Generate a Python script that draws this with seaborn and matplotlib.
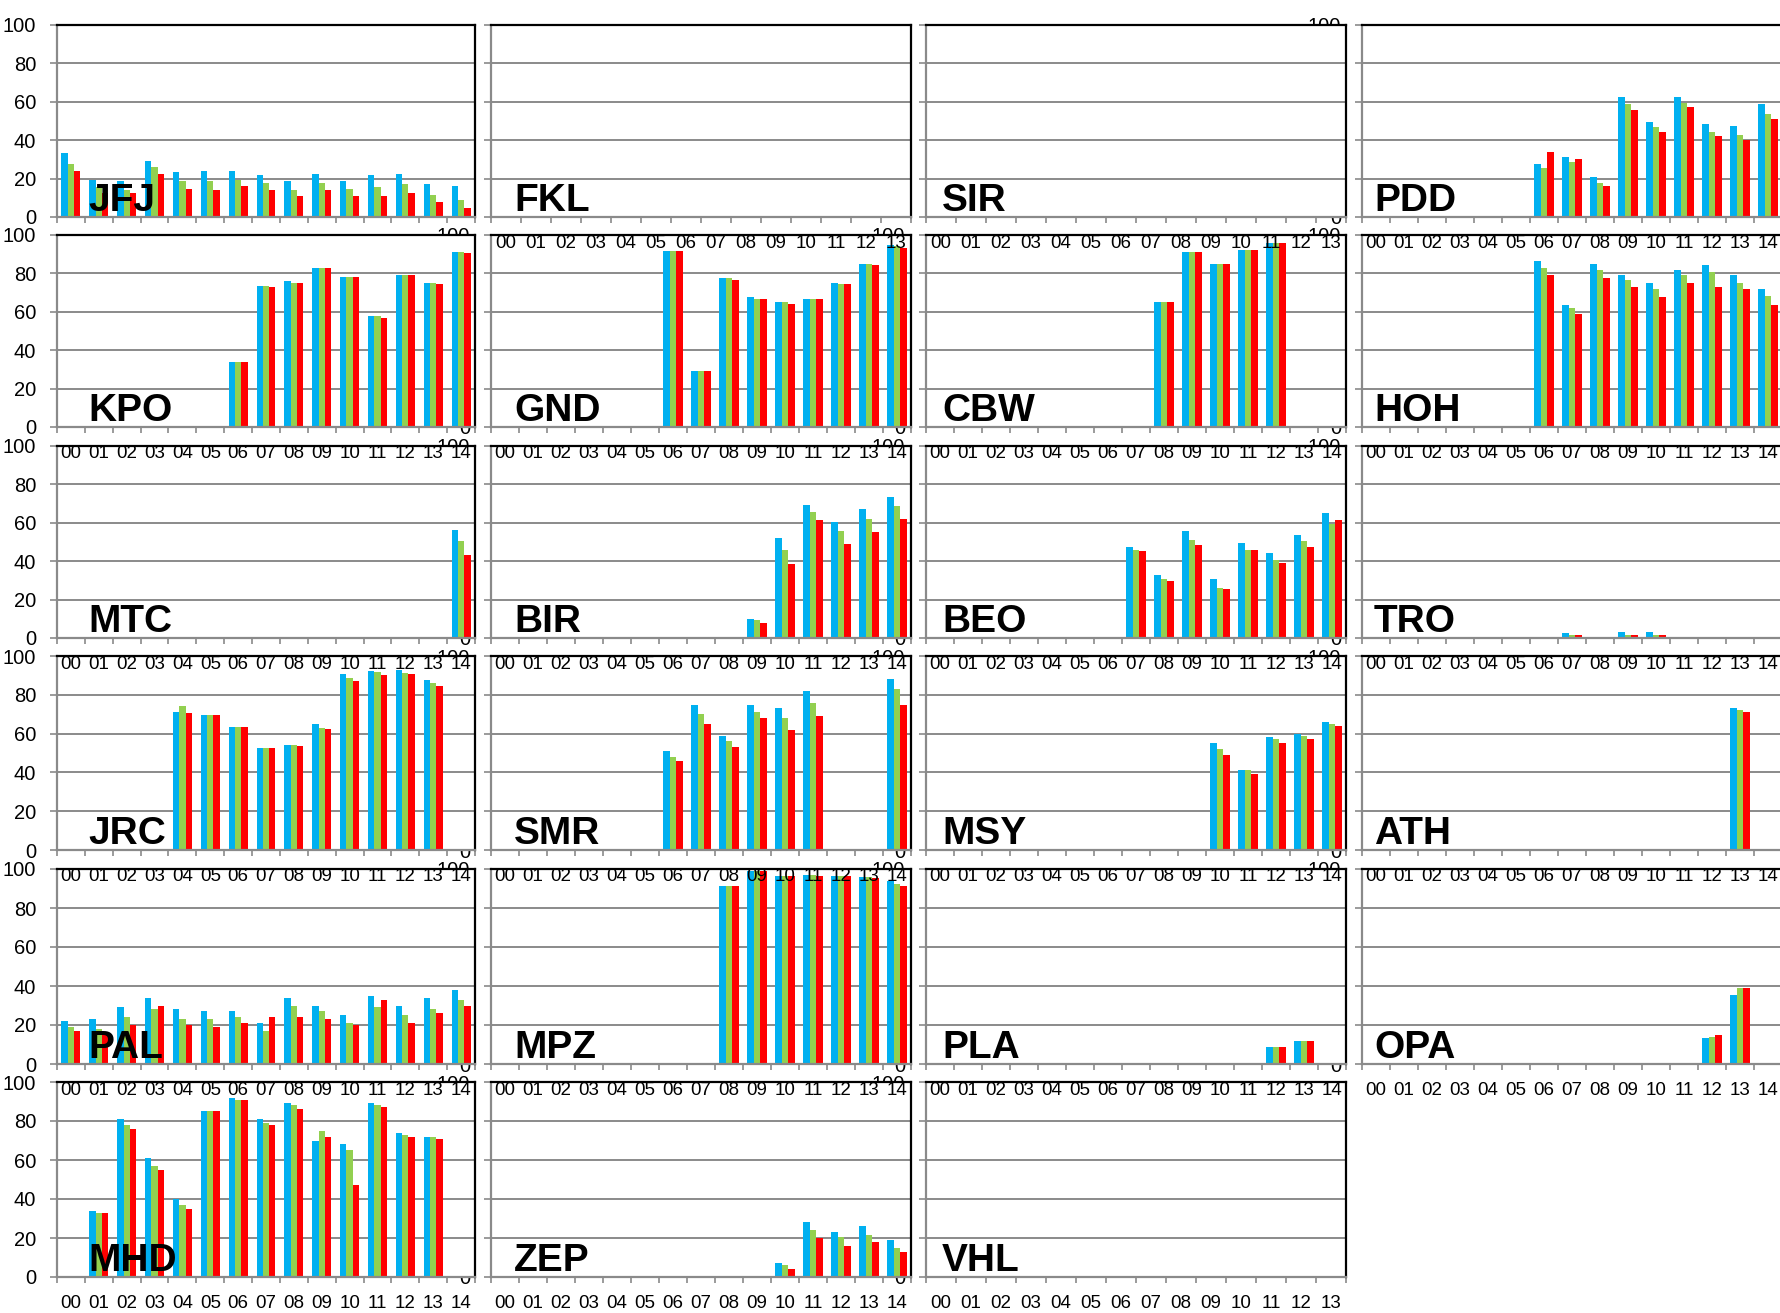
"""
Grid of station panels: three yearly series per station as clustered bars
Saves the output to out.png
"""

import numpy as np
import pandas as pd
import matplotlib

matplotlib.use("Agg")
import matplotlib.pyplot as plt
import seaborn as sns

n = np.nan

years = ["00", "01", "02", "03", "04", "05", "06", "07", "08", "09", "10", "11", "12", "13", "14"]
series = ["blue", "green", "red"]
colors = ["#00B0F0", "#92D050", "#FF0000"]

# ------------------------------#
# Values per station: [blue, green, red], one entry per year (nan = no bar)
JFJ = [
    [33.1, 19.4, 19.0, 29.3, 23.2, 23.9, 23.9, 21.7, 18.5, 22.4, 18.5, 21.7, 22.4, 17.2, 16.3],
    [27.7, 15.4, 14.0, 26.2, 18.5, 18.5, 19.4, 17.9, 14.0, 17.9, 14.7, 15.4, 17.2, 11.6, 8.7],
    [23.9, 12.5, 12.5, 22.5, 14.7, 14.0, 16.3, 14.0, 10.9, 14.0, 10.9, 10.9, 12.5, 8.0, 4.9],
]
PDD = [
    [n, n, n, n, n, n, 27.7, 31.5, 20.8, 62.7, 49.7, 62.7, 48.4, 47.5, 58.9],
    [n, n, n, n, n, n, 25.3, 28.4, 17.9, 58.9, 46.8, 59.6, 44.4, 42.8, 53.6],
    [n, n, n, n, n, n, 33.8, 30.0, 16.3, 55.8, 44.4, 57.4, 42.1, 39.9, 51.3],
]
KPO = [
    [n, n, n, n, n, n, 34.0, 73.6, 75.8, 82.8, 78.1, 57.6, 79.0, 75.1, 91.1],
    [n, n, n, n, n, n, 34.0, 73.6, 75.1, 82.8, 78.1, 57.6, 79.0, 75.1, 91.1],
    [n, n, n, n, n, n, 34.0, 72.9, 75.1, 82.8, 78.1, 56.7, 79.0, 74.4, 90.4],
]
GND = [
    [n, n, n, n, n, n, 91.8, 29.2, 77.4, 67.5, 65.2, 66.6, 75.1, 85.0, 94.8],
    [n, n, n, n, n, n, 91.8, 29.2, 77.4, 66.6, 65.2, 66.6, 74.4, 85.0, 94.3],
    [n, n, n, n, n, n, 91.8, 29.2, 76.5, 66.6, 64.3, 66.6, 74.4, 84.3, 93.4],
]
CBW = [
    [n, n, n, n, n, n, n, n, 65.2, 91.1, 85.0, 92.0, 95.7, n, n],
    [n, n, n, n, n, n, n, n, 65.2, 91.1, 85.0, 92.0, 95.7, n, n],
    [n, n, n, n, n, n, n, n, 65.2, 91.1, 85.0, 92.0, 95.7, n, n],
]
HOH = [
    [n, n, n, n, n, n, 86.6, 63.5, 85.0, 79.0, 75.1, 81.9, 84.3, 79.0, 72.0],
    [n, n, n, n, n, n, 82.8, 62.1, 81.9, 76.5, 72.0, 79.0, 80.5, 75.1, 68.2],
    [n, n, n, n, n, n, 79.0, 59.0, 77.4, 72.9, 67.5, 75.1, 72.9, 72.0, 63.5],
]
MTC = [
    [n, n, n, n, n, n, n, n, n, n, n, n, n, n, 56.3],
    [n, n, n, n, n, n, n, n, n, n, n, n, n, n, 50.6],
    [n, n, n, n, n, n, n, n, n, n, n, n, n, n, 43.3],
]
BIR = [
    [n, n, n, n, n, n, n, n, n, 10.1, 52.0, 69.5, 60.5, 67.2, 73.3],
    [n, n, n, n, n, n, n, n, n, 9.4, 45.9, 65.7, 55.8, 61.9, 68.8],
    [n, n, n, n, n, n, n, n, n, 8.0, 38.3, 61.2, 49.0, 55.1, 61.9],
]
BEO = [
    [n, n, n, n, n, n, n, 47.5, 32.9, 55.8, 30.7, 49.6, 44.4, 53.6, 65.0],
    [n, n, n, n, n, n, n, 45.9, 30.7, 51.1, 26.2, 45.9, 40.6, 50.4, 59.6],
    [n, n, n, n, n, n, n, 45.2, 29.8, 48.2, 25.3, 45.9, 39.0, 47.5, 61.2],
]
TRO = [
    [n, n, n, n, n, n, n, 2.6, 0.3, 3.3, 3.3, 0.3, n, n, n],
    [n, n, n, n, n, n, n, 1.7, 0.3, 1.7, 1.7, 0.3, n, n, n],
    [n, n, n, n, n, n, n, 1.7, 0.3, 1.7, 1.7, 0.3, n, n, n],
]
JRC = [
    [n, n, n, n, 71.0, 69.5, 63.5, 52.5, 54.0, 64.7, 90.6, 92.4, 93.0, 87.6, n],
    [n, n, n, n, 74.0, 69.5, 63.5, 52.5, 54.0, 63.0, 88.8, 91.8, 91.0, 86.0, n],
    [n, n, n, n, 70.6, 69.5, 63.5, 52.5, 53.5, 62.4, 87.0, 90.0, 90.6, 84.7, n],
]
SMR = [
    [n, n, n, n, n, n, 51.0, 75.0, 59.0, 75.0, 73.0, 82.0, n, n, 88.0],
    [n, n, n, n, n, n, 48.0, 70.0, 56.0, 71.0, 68.0, 76.0, n, n, 83.0],
    [n, n, n, n, n, n, 46.0, 65.0, 53.0, 68.0, 62.0, 69.0, n, n, 75.0],
]
MSY = [
    [n, n, n, n, n, n, n, n, n, n, 55.0, 41.0, 58.0, 60.0, 66.0],
    [n, n, n, n, n, n, n, n, n, n, 52.0, 41.0, 57.0, 59.0, 65.0],
    [n, n, n, n, n, n, n, n, n, n, 49.0, 39.0, 55.0, 57.0, 64.0],
]
ATH = [
    [n, n, n, n, n, n, n, n, n, n, n, n, n, 73.0, n],
    [n, n, n, n, n, n, n, n, n, n, n, n, n, 72.0, n],
    [n, n, n, n, n, n, n, n, n, n, n, n, n, 71.0, n],
]
PAL = [
    [22.0, 23.0, 29.0, 34.0, 28.0, 27.0, 27.0, 21.0, 34.0, 30.0, 25.0, 35.0, 30.0, 34.0, 38.0],
    [19.0, 18.0, 24.0, 28.0, 23.0, 23.0, 24.0, 17.0, 30.0, 27.0, 21.0, 29.0, 25.0, 28.0, 33.0],
    [17.0, 15.0, 20.0, 30.0, 20.0, 19.0, 21.0, 24.0, 24.0, 23.0, 20.0, 33.0, 21.0, 26.0, 30.0],
]
MPZ = [
    [n, n, n, n, n, n, n, n, 91.3, 99.0, 96.5, 97.0, 96.5, 96.0, 93.6],
    [n, n, n, n, n, n, n, n, 91.3, 99.0, 96.5, 97.0, 96.5, 96.0, 92.4],
    [n, n, n, n, n, n, n, n, 91.3, 99.0, 96.5, 96.5, 96.5, 95.5, 91.3],
]
PLA = [
    [n, n, n, n, n, n, n, n, n, n, n, n, 8.5, 12.0, n],
    [n, n, n, n, n, n, n, n, n, n, n, n, 8.5, 12.0, n],
    [n, n, n, n, n, n, n, n, n, n, n, n, 8.5, 12.0, n],
]
OPA = [
    [n, n, n, n, n, n, n, n, n, n, n, n, 13.4, 35.5, n],
    [n, n, n, n, n, n, n, n, n, n, n, n, 14.0, 39.0, n],
    [n, n, n, n, n, n, n, n, n, n, n, n, 15.0, 39.0, n],
]
MHD = [
    [n, 34.0, 81.0, 61.0, 40.0, 85.0, 92.0, 81.0, 89.0, 70.0, 68.0, 89.0, 74.0, 72.0, n],
    [n, 33.0, 78.0, 57.0, 37.0, 85.0, 91.0, 79.0, 88.0, 75.0, 65.0, 88.0, 73.0, 72.0, n],
    [n, 33.0, 76.0, 55.0, 35.0, 85.0, 91.0, 78.0, 86.0, 72.0, 47.0, 87.0, 72.0, 71.0, n],
]
ZEP = [
    [n, n, n, n, n, n, n, n, n, n, 7.0, 28.0, 23.0, 26.0, 19.0],
    [n, n, n, n, n, n, n, n, n, n, 6.0, 24.0, 20.5, 21.6, 15.0],
    [n, n, n, n, n, n, n, n, n, n, 4.0, 20.0, 16.0, 18.0, 13.0],
]

# Panels without data, and number of year slots in each panel
panel_data = {
    "JFJ": JFJ, "FKL": None, "SIR": None, "PDD": PDD,
    "KPO": KPO, "GND": GND, "CBW": CBW, "HOH": HOH,
    "MTC": MTC, "BIR": BIR, "BEO": BEO, "TRO": TRO,
    "JRC": JRC, "SMR": SMR, "MSY": MSY, "ATH": ATH,
    "PAL": PAL, "MPZ": MPZ, "PLA": PLA, "OPA": OPA,
    "MHD": MHD, "ZEP": ZEP, "VHL": None,
}
short_panels = ["FKL", "SIR", "VHL"]  # only 00-13
layout = [
    ["JFJ", "FKL", "SIR", "PDD"],
    ["KPO", "GND", "CBW", "HOH"],
    ["MTC", "BIR", "BEO", "TRO"],
    ["JRC", "SMR", "MSY", "ATH"],
    ["PAL", "MPZ", "PLA", "OPA"],
    ["MHD", "ZEP", "VHL", None],
]
# ------------------------------#

# Geometry in pixels of the 1781x1313 canvas
W, H = 1781, 1313
col_left = [57, 491, 926, 1362]
col_width = [418, 420, 420, 420]
row_top = [25, 235, 446, 656, 869, 1082]
row_bottom = [217, 427, 638, 850, 1064, 1277]
name_offset = [31, 23, 16, 12]
grid_gray = "#8a8a8a"

sns.set_style("white")
plt.rcParams["font.family"] = ["Liberation Sans", "DejaVu Sans"]
plt.rcParams["text.color"] = "black"
plt.rcParams["xtick.labelcolor"] = "black"
plt.rcParams["ytick.labelcolor"] = "black"

fig = plt.figure(figsize=(W / 100, H / 100), dpi=100)
fig.patch.set_facecolor("white")


def draw_panel(ax, name, values, ncat, col, show_xlabels, show_ylabels):
    cats = years[:ncat]
    if values is not None:
        df = pd.DataFrame(
            {
                "year": cats * 3,
                "series": np.repeat(series, ncat),
                "value": np.concatenate([v[:ncat] for v in values]),
            }
        ).dropna()
        sns.barplot(
            data=df,
            x="year",
            y="value",
            hue="series",
            order=cats,
            hue_order=series,
            palette=colors,
            saturation=1,
            width=0.68,
            errorbar=None,
            legend=False,
            linewidth=0,
            ax=ax,
        )
    ax.set_facecolor("white")
    ax.set_xlim(-0.5, ncat - 0.5)
    ax.set_ylim(0, 100)
    ax.set_xlabel("")
    ax.set_ylabel("")

    ax.set_yticks([0, 20, 40, 60, 80, 100])
    ax.yaxis.grid(True, color=grid_gray, lw=1.4)
    ax.xaxis.grid(False)
    ax.set_axisbelow(True)

    ax.set_xticks(range(ncat), cats)
    ax.set_xticks(np.arange(-0.5, ncat), minor=True)
    ax.tick_params(axis="x", which="major", length=0, pad=13, labelsize=13.5,
                   labelbottom=show_xlabels, labelcolor="black")
    ax.tick_params(axis="x", which="minor", bottom=True, length=4.5, width=1.2,
                   color=grid_gray)
    ax.tick_params(axis="y", left=True, length=5, width=1.2, color=grid_gray,
                   pad=10, labelsize=14.5, labelleft=show_ylabels, labelcolor="black")

    for side in ["top", "right"]:
        ax.spines[side].set_color("black")
        ax.spines[side].set_linewidth(1.6)
    for side in ["left", "bottom"]:
        ax.spines[side].set_color(grid_gray)
        ax.spines[side].set_linewidth(1.6)
    for s in ax.spines.values():
        s.set_visible(True)

    height = ax.get_position().height * H
    ax.text(name_offset[col] / col_width[col], 6 / height, name,
            transform=ax.transAxes, fontsize=28, fontweight="bold", color="black",
            va="baseline", ha="left", zorder=6)


for r, row in enumerate(layout):
    for c, name in enumerate(row):
        if name is None:
            continue
        left = col_left[c] / W
        bottom = 1 - row_bottom[r] / H
        ax = fig.add_axes([left, bottom, col_width[c] / W, (row_bottom[r] - row_top[r]) / H])
        # upper rows and left columns are drawn over their neighbours
        ax.set_zorder((6 - r) * 10 + (4 - c))
        ncat = 14 if name in short_panels else 15
        draw_panel(
            ax,
            name,
            panel_data[name],
            ncat,
            c,
            show_xlabels=(name != "JFJ"),
            show_ylabels=(name not in ["FKL", "SIR"]),
        )

fig.savefig("out.png", dpi=100, facecolor="white")
